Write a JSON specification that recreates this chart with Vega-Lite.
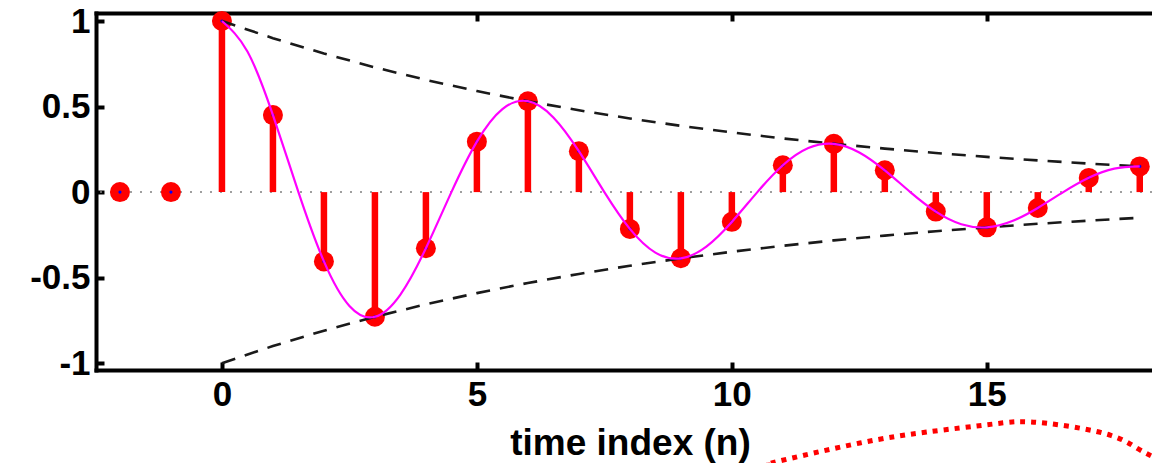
{
  "$schema": "https://vega.github.io/schema/vega-lite/v6.json",
  "width": 1056,
  "height": 357,
  "autosize": {"type": "none"},
  "padding": {"left": 96, "top": 13, "right": 0, "bottom": 93},
  "background": "white",
  "config": {
    "view": {"stroke": null},
    "axis": {
      "domainColor": "black", "domainWidth": 4, "domainCap": "square",
      "tickColor": "black", "tickWidth": 4, "tickSize": -8,
      "grid": false,
      "labelFont": "Liberation Sans", "labelFontWeight": "bold", "labelFontSize": 35, "labelColor": "black",
      "titleFont": "Liberation Sans", "titleFontWeight": "bold", "titleFontSize": 37, "titleColor": "black"
    }
  },
  "datasets": {
    "samples": [
      {"n": -2, "value": 0}, {"n": -1, "value": 0}, {"n": 0, "value": 1}, {"n": 1, "value": 0.45},
      {"n": 2, "value": -0.405}, {"n": 3, "value": -0.729}, {"n": 4, "value": -0.328}, {"n": 5, "value": 0.295},
      {"n": 6, "value": 0.531}, {"n": 7, "value": 0.239}, {"n": 8, "value": -0.215}, {"n": 9, "value": -0.387},
      {"n": 10, "value": -0.174}, {"n": 11, "value": 0.157}, {"n": 12, "value": 0.282}, {"n": 13, "value": 0.127},
      {"n": 14, "value": -0.114}, {"n": 15, "value": -0.206}, {"n": 16, "value": -0.093}, {"n": 17, "value": 0.083},
      {"n": 18, "value": 0.150}
    ],
    "curve": [
      {"t": 0, "v": 1}, {"t": 0.5, "v": 0.8216}, {"t": 1, "v": 0.45}, {"t": 1.5, "v": 0}, {"t": 2, "v": -0.405},
      {"t": 2.5, "v": -0.6655}, {"t": 3, "v": -0.729}, {"t": 3.5, "v": -0.5989}, {"t": 4, "v": -0.328}, {"t": 4.5, "v": 0},
      {"t": 5, "v": 0.2952}, {"t": 5.5, "v": 0.4851}, {"t": 6, "v": 0.5314}, {"t": 6.5, "v": 0.4366}, {"t": 7, "v": 0.2391},
      {"t": 7.5, "v": 0}, {"t": 8, "v": -0.2152}, {"t": 8.5, "v": -0.3537}, {"t": 9, "v": -0.3874}, {"t": 9.5, "v": -0.3183},
      {"t": 10, "v": -0.1743}, {"t": 10.5, "v": 0}, {"t": 11, "v": 0.1569}, {"t": 11.5, "v": 0.2578}, {"t": 12, "v": 0.2824},
      {"t": 12.5, "v": 0.232}, {"t": 13, "v": 0.1271}, {"t": 13.5, "v": 0}, {"t": 14, "v": -0.1144}, {"t": 14.5, "v": -0.1879},
      {"t": 15, "v": -0.2059}, {"t": 15.5, "v": -0.1692}, {"t": 16, "v": -0.0927}, {"t": 16.5, "v": 0}, {"t": 17, "v": 0.0834},
      {"t": 17.5, "v": 0.137}, {"t": 18, "v": 0.1501}
    ],
    "envelope": [
      {"t": 0, "env": 1, "side": "upper"}, {"t": 1, "env": 0.9, "side": "upper"}, {"t": 2, "env": 0.81, "side": "upper"},
      {"t": 3, "env": 0.729, "side": "upper"}, {"t": 4, "env": 0.6561, "side": "upper"}, {"t": 5, "env": 0.5905, "side": "upper"},
      {"t": 6, "env": 0.5314, "side": "upper"}, {"t": 7, "env": 0.4783, "side": "upper"}, {"t": 8, "env": 0.4305, "side": "upper"},
      {"t": 9, "env": 0.3874, "side": "upper"}, {"t": 10, "env": 0.3487, "side": "upper"}, {"t": 11, "env": 0.3138, "side": "upper"},
      {"t": 12, "env": 0.2824, "side": "upper"}, {"t": 13, "env": 0.2542, "side": "upper"}, {"t": 14, "env": 0.2288, "side": "upper"},
      {"t": 15, "env": 0.2059, "side": "upper"}, {"t": 16, "env": 0.1853, "side": "upper"}, {"t": 17, "env": 0.1668, "side": "upper"},
      {"t": 18, "env": 0.1501, "side": "upper"},
      {"t": 0, "env": -1, "side": "lower"}, {"t": 1, "env": -0.9, "side": "lower"}, {"t": 2, "env": -0.81, "side": "lower"},
      {"t": 3, "env": -0.729, "side": "lower"}, {"t": 4, "env": -0.6561, "side": "lower"}, {"t": 5, "env": -0.5905, "side": "lower"},
      {"t": 6, "env": -0.5314, "side": "lower"}, {"t": 7, "env": -0.4783, "side": "lower"}, {"t": 8, "env": -0.4305, "side": "lower"},
      {"t": 9, "env": -0.3874, "side": "lower"}, {"t": 10, "env": -0.3487, "side": "lower"}, {"t": 11, "env": -0.3138, "side": "lower"},
      {"t": 12, "env": -0.2824, "side": "lower"}, {"t": 13, "env": -0.2542, "side": "lower"}, {"t": 14, "env": -0.2288, "side": "lower"},
      {"t": 15, "env": -0.2059, "side": "lower"}, {"t": 16, "env": -0.1853, "side": "lower"}, {"t": 17, "env": -0.1668, "side": "lower"},
      {"t": 18, "env": -0.1501, "side": "lower"}
    ],
    "arc": [
      {"u": 10.75, "w": -1.595}, {"u": 10.88, "w": -1.576}, {"u": 12.51, "w": -1.467}, {"u": 13.82, "w": -1.403},
      {"u": 15.12, "w": -1.356}, {"u": 15.71, "w": -1.342}, {"u": 16.43, "w": -1.361}, {"u": 17.41, "w": -1.42},
      {"u": 17.94, "w": -1.496}, {"u": 18.24, "w": -1.544}
    ]
  },
  "resolve": {"axis": {"x": "independent", "y": "independent"}},
  "layer": [
    {
      "data": {"values": [{}]},
      "mark": {"type": "rule", "color": "#808080", "strokeWidth": 1.5, "strokeDash": [2, 8]},
      "encoding": {"y": {"datum": 0, "type": "quantitative", "axis": null}}
    },
    {
      "data": {"name": "samples"},
      "mark": {"type": "rule", "color": "#ff0000", "strokeWidth": 6.5},
      "encoding": {
        "x": {"field": "n", "type": "quantitative",
              "scale": {"domain": [-2.47, 18.24], "nice": false, "zero": false},
              "axis": {"orient": "bottom", "values": [0, 5, 10, 15], "labelPadding": 15,
                       "title": "time index (n)", "titleY": 84, "titleX": 534, "titleBaseline": "alphabetic", "titleAlign": "center"}},
        "y": {"field": "value", "type": "quantitative",
              "scale": {"domain": [-1.04, 1.047], "nice": false, "zero": false},
              "axis": {"orient": "left", "values": [-1, -0.5, 0, 0.5, 1], "labelPadding": 14, "title": null,
                       "format": "~g",
                       "labelExpr": "replace(datum.label, '\u2212', '-')"}},
        "y2": {"datum": 0}
      }
    },
    {
      "data": {"name": "samples"},
      "mark": {"type": "point", "filled": true, "color": "#ff0000", "opacity": 1, "size": 400},
      "encoding": {
        "x": {"field": "n", "type": "quantitative", "axis": null},
        "y": {"field": "value", "type": "quantitative", "axis": null}
      }
    },
    {
      "data": {"name": "samples"},
      "mark": {"type": "point", "filled": true, "color": "#0000ff", "opacity": 1, "size": 10},
      "encoding": {
        "x": {"field": "n", "type": "quantitative", "axis": null},
        "y": {"field": "value", "type": "quantitative", "axis": null}
      }
    },
    {
      "data": {"name": "envelope"},
      "mark": {"type": "line", "color": "#1a1a1a", "strokeWidth": 2.6, "strokeDash": [14, 10]},
      "encoding": {
        "x": {"field": "t", "type": "quantitative",
              "axis": {"orient": "top", "values": [0, 5, 10, 15], "labels": false, "title": null}},
        "y": {"field": "env", "type": "quantitative", "axis": null},
        "detail": {"field": "side"}
      }
    },
    {
      "data": {"name": "curve"},
      "mark": {"type": "line", "color": "#ff00ff", "strokeWidth": 2.2, "interpolate": "natural"},
      "encoding": {
        "x": {"field": "t", "type": "quantitative", "axis": null},
        "y": {"field": "v", "type": "quantitative", "axis": null}
      }
    },
    {
      "data": {"name": "arc"},
      "mark": {"type": "line", "color": "#ff0000", "strokeWidth": 5, "strokeDash": [5, 6], "interpolate": "natural", "clip": false},
      "encoding": {
        "x": {"field": "u", "type": "quantitative", "axis": null},
        "y": {"field": "w", "type": "quantitative", "axis": null}
      }
    }
  ]
}
